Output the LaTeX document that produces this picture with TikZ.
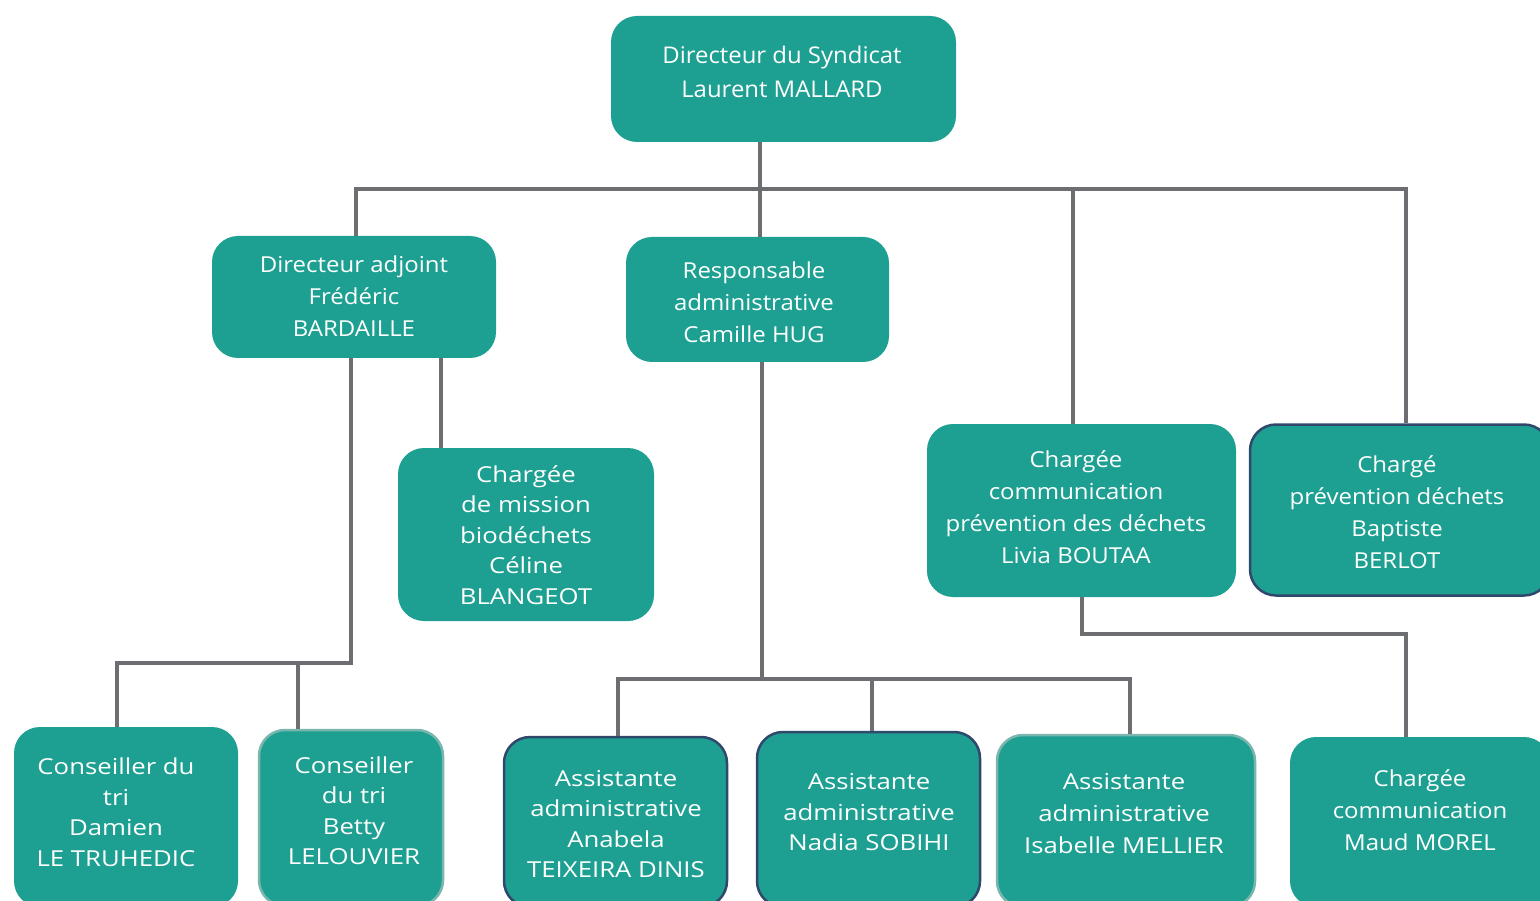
\documentclass[tikz,border=0pt]{standalone}
\usepackage{fontspec}
\setmainfont{Open Sans}
\newfontfamily\topfont[FakeStretch=1.04]{Open Sans}
\newfontfamily\midfont[FakeStretch=1.09]{Open Sans}
\newfontfamily\widefont[FakeStretch=1.17]{Open Sans}
\definecolor{boxfill}{RGB}{29,160,145}
\definecolor{linegray}{RGB}{109,110,113}
\definecolor{navy}{RGB}{47,72,108}
\definecolor{lightedge}{RGB}{120,182,174}
\begin{document}
\begin{tikzpicture}[x=1pt,y=-1pt,
  box/.style={fill=boxfill, rounded corners=26pt, inner sep=0pt},
  navyedge/.style={draw=navy, line width=2.5pt},
  lightline/.style={draw=lightedge, line width=2.5pt},
  txt/.style={text=white, align=center, inner sep=0pt, font=\midfont\fontsize{22}{32}\selectfont},
  wtxt/.style={txt, font=\widefont\fontsize{22}{30.5}\selectfont},
  conn/.style={draw=linegray, line width=4pt}]
\clip (0,0) rectangle (1540,901);
% boxes
\node[box, minimum width=345pt, minimum height=126pt] (top) at (783.5,79) {};
\node[box, minimum width=284pt, minimum height=122pt] (adj) at (354,297) {};
\node[box, minimum width=263pt, minimum height=125pt] (resp) at (757.5,299.5) {};
\node[box, minimum width=256pt, minimum height=173pt] (miss) at (526,534.5) {};
\node[box, minimum width=309pt, minimum height=173pt] (livia) at (1081.5,510.5) {};
\node[box, navyedge, minimum width=300pt, minimum height=171pt] (bapt) at (1400,510) {};
\node[box, minimum width=224pt, minimum height=180pt] (dam) at (126,817) {};
\node[box, lightline, minimum width=184pt, minimum height=176pt] (betty) at (351,818) {};
\node[box, navyedge, minimum width=223pt, minimum height=170pt] (ana) at (615.5,822) {};
\node[box, navyedge, minimum width=223pt, minimum height=175pt] (nadia) at (868.5,819.5) {};
\node[box, lightline, minimum width=258pt, minimum height=172pt] (isa) at (1126,821) {};
\node[box, minimum width=260pt, minimum height=170pt] (maud) at (1420,822) {};
% texts
\node[txt, font=\topfont\fontsize{23}{34}\selectfont] (ttop) at (782,72) {Directeur du Syndicat\\Laurent MALLARD};
\node[txt] (tadj) at (354,296) {Directeur adjoint\\Frédéric\\BARDAILLE};
\node[txt] (tresp) at (754,302) {Responsable\\administrative\\Camille HUG};
\node[wtxt] (tmiss) at (526,535) {Chargée\\de mission\\biodéchets\\Céline\\BLANGEOT};
\node[txt] (tliv) at (1076,507) {Chargée\\communication\\prévention des déchets\\Livia BOUTAA};
\node[txt] (tbap) at (1397,512) {Chargé\\prévention déchets\\Baptiste\\BERLOT};
\node[wtxt] (tdam) at (116,812) {Conseiller du\\tri\\Damien\\LE TRUHEDIC};
\node[wtxt] (tbet) at (354,810.5) {Conseiller\\du tri\\Betty\\LELOUVIER};
\node[wtxt] (tana) at (616,824) {Assistante\\administrative\\Anabela\\TEIXEIRA DINIS};
\node[wtxt] (tnad) at (869,812.5) {Assistante\\administrative\\Nadia SOBIHI};
\node[wtxt, font=\widefont\fontsize{22}{32}\selectfont] (tisa) at (1124,814) {Assistante\\administrative\\Isabelle MELLIER};
\node[txt] (tmau) at (1420,810) {Chargée\\communication\\Maud MOREL};
% connectors
\coordinate (h1) at (760,189);
\draw[conn] (top.south -| 760,0) -- (h1);
\draw[conn] (adj.north -| 356,0) |- (h1) -| (bapt.north -| 1406,0);
\draw[conn] (h1) -- (resp.north -| 760,0);
\draw[conn] (livia.north -| 1073,0) -- (1073,189);
\draw[conn] (adj.south -| 441,0) -- (miss.north -| 441,0);
\draw[conn] (adj.south -| 351,0) |- (117,663) -- (dam.north -| 117,0);
\draw[conn] (298,663) -- (betty.north -| 298,0);
\draw[conn] (resp.south -| 762,0) -- (762,679);
\draw[conn] (ana.north -| 618,0) |- (762,679) -| (isa.north -| 1130,0);
\draw[conn] (872,679) -- (nadia.north -| 872,0);
\draw[conn] (livia.south -| 1082,0) |- (1406,634) -- (maud.north -| 1406,0);
\end{tikzpicture}
\end{document}
